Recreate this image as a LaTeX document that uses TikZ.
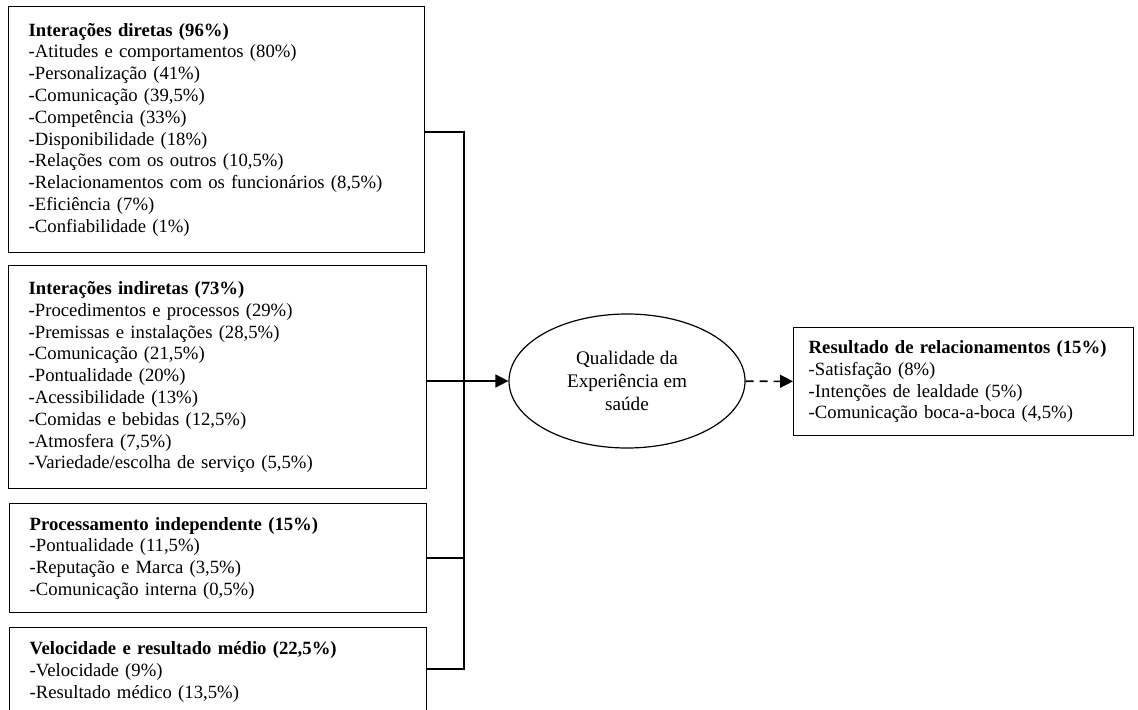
\documentclass[tikz,border=0pt]{standalone}
\usepackage{fontspec}
\setmainfont{Liberation Serif}
\usetikzlibrary{arrows.meta,positioning,shapes.geometric}

\begin{document}
\begin{tikzpicture}[
  x=0.5pt, y=-0.5pt,
  >={Triangle[length=6.5pt,width=6.5pt]},
  box/.style={draw, line width=0.7pt, anchor=north west, align=left, inner xsep=10pt, inner ysep=0pt, font=\fontsize{9.35}{10.9}\selectfont},
  link/.style={line width=0.8pt}
]
\clip (0,0) rectangle (1138,710);
\node[box, text width=188pt, minimum height=123pt] (diretas) at (8,6) {\textbf{Interações diretas (96\%)}\\
  -Atitudes e comportamentos (80\%)\\ -Personalização (41\%)\\ -Comunicação (39,5\%)\\
  -Competência (33\%)\\ -Disponibilidade (18\%)\\ -Relações com os outros (10,5\%)\\
  -Relacionamentos com os funcionários (8,5\%)\\ -Eficiência (7\%)\\ -Confiabilidade (1\%)};
\node[box, text width=189pt, minimum height=111.5pt] (indiretas) at (8,265) {\textbf{Interações indiretas (73\%)}\\
  -Procedimentos e processos (29\%)\\ -Premissas e instalações (28,5\%)\\ -Comunicação (21,5\%)\\
  -Pontualidade (20\%)\\ -Acessibilidade (13\%)\\ -Comidas e bebidas (12,5\%)\\
  -Atmosfera (7,5\%)\\ -Variedade/escolha de serviço (5,5\%)};
\node[box, text width=188.5pt, minimum height=54.5pt] (proc) at (9,503) {\textbf{Processamento independente (15\%)}\\
  -Pontualidade (11,5\%)\\ -Reputação e Marca (3,5\%)\\ -Comunicação interna (0,5\%)};
\node[box, text width=188.5pt, minimum height=44pt] (veloc) at (9,627) {\textbf{Velocidade e resultado médio (22,5\%)}\\
  -Velocidade (9\%)\\ -Resultado médico (13,5\%)};
\node[ellipse, draw, line width=0.6pt, minimum width=118pt, minimum height=67pt, align=center,
  font=\fontsize{9.6}{11.6}\selectfont] (qual) at (627,381) {Qualidade da\\ Experiência em\\ saúde};
\node[box, inner xsep=7.5pt, text width=155pt, minimum height=54pt] (result) at (793,327) {\textbf{Resultado de relacionamentos (15\%)}\\
  -Satisfação (8\%)\\ -Intenções de lealdade (5\%)\\ -Comunicação boca-a-boca (4,5\%)};
\coordinate (jtop) at (464,132);
\coordinate (jbot) at (464,669);
\draw[link] (diretas.east |- jtop) -- (jtop) -- (jbot) -- (veloc.east |- jbot);
\draw[link] (proc.east) -- (proc.east -| jtop);
\draw[link, ->] (indiretas.east |- qual) -- (qual);
\draw[link, ->, dash pattern=on 4pt off 3pt] (qual) -- (result);
\end{tikzpicture}
\end{document}
